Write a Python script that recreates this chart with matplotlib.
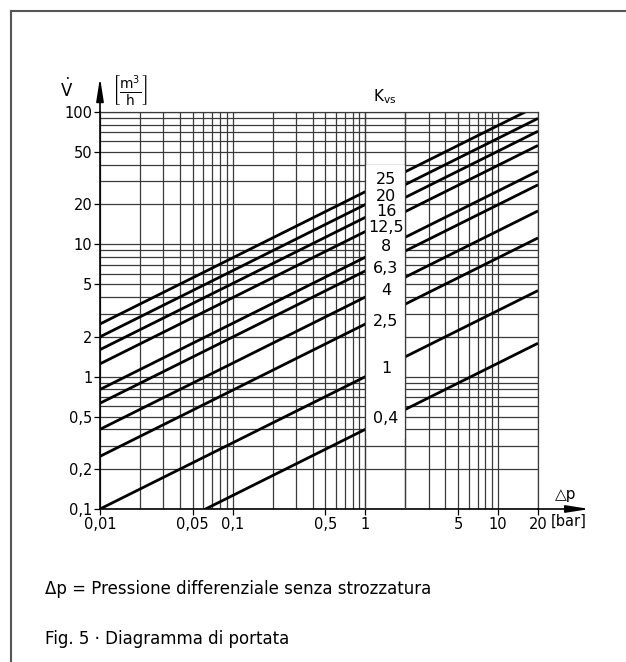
import numpy as np
import matplotlib
matplotlib.use("Agg")
import matplotlib.pyplot as plt
from matplotlib.patches import Rectangle
from matplotlib.lines import Line2D

# ---- data ----
kvs_values = [0.4, 1, 2.5, 4, 6.3, 8, 12.5, 16, 20, 25]
kvs_labels = ["0,4", "1", "2,5", "4", "6,3", "8", "12,5", "16", "20", "25"]
label_y = [0.48, 1.16, 2.6, 4.5, 6.6, 9.7, 13.3, 17.6, 22.9, 30.7]
dp_range = [0.01, 20]
x_ticks = [0.01, 0.05, 0.1, 0.5, 1, 5, 10, 20]
x_tick_labels = ["0,01", "0,05", "0,1", "0,5", "1", "5", "10", "20"]
y_ticks = [0.1, 0.2, 0.5, 1, 2, 5, 10, 20, 50, 100]
y_tick_labels = ["0,1", "0,2", "0,5", "1", "2", "5", "10", "20", "50", "100"]

plt.rcParams['font.family'] = ['DejaVu Sans']

W, H = 626, 662
fig = plt.figure(figsize=(W / 100, H / 100), dpi=100)

def fx(px):
    return px / W

def fy(py):
    return 1 - py / H

ax = fig.add_axes([fx(100), fy(509), (538 - 100) / W, (509 - 112) / H])
ax.set_xscale('log')
ax.set_yscale('log')
ax.set_xlim(0.01, 20)
ax.set_ylim(0.1, 100)

grid_color = '#3a3a3a'
ax.xaxis.set_minor_locator(matplotlib.ticker.LogLocator(subs=np.arange(1, 10), numticks=20))
ax.yaxis.set_minor_locator(matplotlib.ticker.LogLocator(subs=np.arange(1, 10), numticks=20))
ax.xaxis.set_minor_formatter(matplotlib.ticker.NullFormatter())
ax.yaxis.set_minor_formatter(matplotlib.ticker.NullFormatter())

ax.set_xticks(x_ticks)
ax.set_xticklabels(x_tick_labels)
ax.set_yticks(y_ticks)
ax.set_yticklabels(y_tick_labels)
ax.grid(which='both', color=grid_color, lw=0.9)
ax.tick_params(which='minor', length=0)
ax.tick_params(which='major', length=4, width=0.9, labelsize=10.5, pad=1.5, color='k')
ax.set_axisbelow(True)

for s in ['top', 'right']:
    ax.spines[s].set_color(grid_color)
    ax.spines[s].set_linewidth(0.9)
for s in ['left', 'bottom']:
    ax.spines[s].set_color('k')
    ax.spines[s].set_linewidth(1.2)

# Kvs lines
dp = np.array(dp_range)
for k in kvs_values:
    ax.plot(dp, k * np.sqrt(dp), color='k', lw=2.0, zorder=2, solid_capstyle='butt')

# white label box between 1 and 2 bar
ax.add_patch(Rectangle((1, 0.34), 1, 40 - 0.34, facecolor='white', edgecolor='none', zorder=3))
ax.vlines([1, 2], 0.1, 100, color=grid_color, lw=0.9, zorder=4)

for lab, yy in zip(kvs_labels, label_y):
    ax.text(1.43, yy, lab, ha='center', va='center', fontsize=11.5, zorder=5)

# axis arrows
arrow_kw = dict(arrowstyle='-|>,head_length=1.4,head_width=0.22', lw=1.2, color='k',
                mutation_scale=10, shrinkA=0, shrinkB=0)
ax.annotate('', xy=(0.01, 182), xytext=(0.01, 100), arrowprops=arrow_kw, annotation_clip=False)
ax.annotate('', xy=(49, 0.1), xytext=(20, 0.1), arrowprops=arrow_kw, annotation_clip=False)

# axis labels
fig.text(fx(67), fy(89), r'$\dot{\mathrm{V}}$', ha='center', va='center', fontsize=12)
fig.text(fx(130), fy(90), r'$\left[\frac{\mathrm{m}^3}{\mathrm{h}}\right]$', ha='center', va='center', fontsize=14)
fig.text(fx(385), fy(97), r'K$_{\mathrm{vs}}$', ha='center', va='center', fontsize=11)
fig.text(fx(566), fy(494), '\u25b3p', ha='center', va='center', fontsize=11)
fig.text(fx(569), fy(521), '[bar]', ha='center', va='center', fontsize=10.5)

# footnotes
fig.text(fx(45), fy(589), '\u0394p = Pressione differenziale senza strozzatura', ha='left', va='center', fontsize=12)
fig.text(fx(45), fy(639), 'Fig. 5 \u00b7 Diagramma di portata', ha='left', va='center', fontsize=12)

# frame
fig.add_artist(Line2D([fx(11), fx(11)], [fy(11), 0], color='#555555', lw=1.5))
fig.add_artist(Line2D([fx(11), 1], [fy(11), fy(11)], color='#555555', lw=1.5))

fig.savefig('out.png', dpi=100)
